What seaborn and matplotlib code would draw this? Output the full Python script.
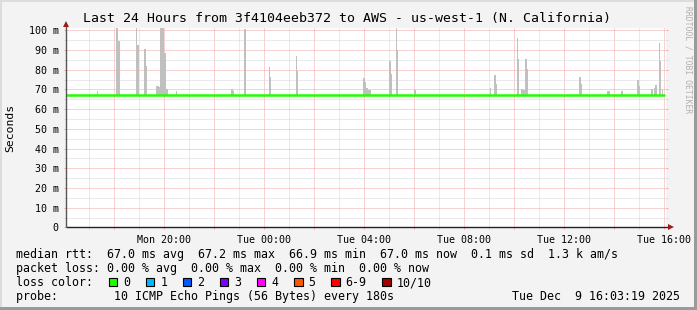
import matplotlib
matplotlib.use("Agg")
import matplotlib.pyplot as plt
from matplotlib.patches import Rectangle
from matplotlib.ticker import MultipleLocator, FixedLocator, FuncFormatter
import seaborn as sns
import pandas as pd
import numpy as np

# ---------------- data ----------------
title = "Last 24 Hours from 3f4104eeb372 to AWS - us-west-1 (N. California)"
y_label = "Seconds"
watermark = "RRDTOOL / TOBI OETIKER"

# median rtt (ms), one value every 30 minutes starting Mon 16:00
median_ms = [67.0, 67.1, 67.0, 67.1, 67.0, 67.0, 67.1, 67.0, 67.0, 67.1,
             67.0, 67.0, 67.0, 67.0, 67.1, 67.0, 67.0, 67.0, 67.0, 67.0,
             67.0, 67.0, 67.0, 67.0, 67.0, 67.0, 67.0, 67.0, 67.0, 67.0,
             67.0, 67.0, 67.0, 67.0, 67.0, 67.0, 67.0, 67.0, 67.0, 67.0,
             67.0, 67.1, 67.0, 67.1, 67.1, 67.1, 67.0, 67.1, 67.0]

# smoke spikes: sample start time and max ping (ms)
spike_times = ["Mon 17:18", "Mon 18:04", "Mon 18:09", "Mon 18:51", "Mon 18:55",
               "Mon 19:12", "Mon 19:15", "Mon 19:40", "Mon 19:43", "Mon 19:46",
               "Mon 19:49", "Mon 19:52", "Mon 19:55", "Mon 19:58", "Mon 20:01",
               "Mon 20:04", "Mon 20:27", "Mon 22:40", "Mon 22:43", "Mon 23:11",
               "Tue 00:10", "Tue 00:13", "Tue 01:15", "Tue 01:18", "Tue 03:57",
               "Tue 04:00", "Tue 04:03", "Tue 04:06", "Tue 04:09", "Tue 04:12",
               "Tue 04:59", "Tue 05:02", "Tue 05:15", "Tue 05:18", "Tue 05:59",
               "Tue 09:01", "Tue 09:11", "Tue 09:14", "Tue 10:05", "Tue 10:08",
               "Tue 10:15", "Tue 10:18", "Tue 10:21", "Tue 10:26", "Tue 10:29",
               "Tue 12:35", "Tue 12:38", "Tue 13:42", "Tue 13:45", "Tue 14:15",
               "Tue 14:18", "Tue 14:55", "Tue 14:58", "Tue 15:28", "Tue 15:35",
               "Tue 15:38", "Tue 15:46", "Tue 15:49", "Tue 15:53"]
spike_max_ms = [69.0, 101.5, 94.4, 101.5, 92.4,
                90.3, 81.8, 72.0, 72.0, 71.5,
                101.5, 101.5, 101.5, 88.7, 88.7,
                70.0, 69.0, 70.0, 69.0, 100.8,
                81.2, 76.1, 87.0, 79.2, 76.0,
                74.0, 71.0, 71.0, 69.7, 69.5,
                84.3, 77.8, 101.5, 90.0, 69.7,
                70.7, 77.2, 73.0, 96.1, 85.3,
                70.4, 70.4, 69.5, 85.6, 80.2,
                76.1, 73.0, 69.4, 69.4, 69.0,
                69.0, 74.8, 72.0, 70.4, 71.0,
                72.4, 93.7, 84.3, 70.0]

y_tick_values = [0, 10, 20, 30, 40, 50, 60, 70, 80, 90, 100]
y_tick_labels = ["0", "10 m", "20 m", "30 m", "40 m", "50 m",
                 "60 m", "70 m", "80 m", "90 m", "100 m"]
x_label_hours = [4, 8, 12, 16, 20, 24]
x_tick_labels = ["Mon 20:00", "Tue 00:00", "Tue 04:00",
                 "Tue 08:00", "Tue 12:00", "Tue 16:00"]

stats_line1 = "median rtt:  67.0 ms avg  67.2 ms max  66.9 ms min  67.0 ms now  0.1 ms sd  1.3 k am/s"
stats_line2 = "packet loss: 0.00 % avg  0.00 % max  0.00 % min  0.00 % now"
loss_title = "loss color:"
loss_labels = ["0", "1", "2", "3", "4", "5", "6-9", "10/10"]
loss_colors = ["#20ff00", "#00b8ff", "#0059ff", "#7e00ff",
               "#ff00ff", "#ff5500", "#ff0000", "#a10000"]
probe_line = "probe:        10 ICMP Echo Pings (56 Bytes) every 180s"
date_text = "Tue Dec  9 16:03:19 2025"

# ---------------- helpers ----------------
def to_hours(s):
    day, hm = s.split()
    h, m = hm.split(":")
    return (0 if day == "Mon" else 24) + int(h) + int(m) / 60 - 16

W, H = 697, 310
BG = "#f3f3f3"
GREEN = "#20ff00"
SMOKE = "#c0c0c0"
MGRID = "#f3a6a6"
GRID = "#d6d6d6"
AXIS = "#222222"
ARROW = "#9b1c1c"
MONO = "DejaVu Sans Mono"

sns.set_theme(style="white")
plt.rcParams["font.family"] = [MONO, "DejaVu Sans"]

fig = plt.figure(figsize=(W / 100, H / 100), dpi=100, facecolor=BG)

left_px, right_px, top_px, bottom_px = 65.8, 665.8, 28.0, 227.4
ax = fig.add_axes([left_px / W, 1 - bottom_px / H,
                   (right_px - left_px) / W, (bottom_px - top_px) / H])
ax.set_facecolor("white")

x_start, x_end = to_hours("Mon 16:03") + 19 / 3600, to_hours("Tue 16:03") + 19 / 3600
ax.set_xlim(x_start, x_end)
ax.set_ylim(0, 101.2)

# smoke
sx = np.array([to_hours(t) for t in spike_times])
sv = np.array(spike_max_ms)
base = 66.6
ax.bar(sx, sv - base, bottom=base, width=0.06, align="edge",
       color=SMOKE, linewidth=0, zorder=2)

# median line
df = pd.DataFrame({"h": np.arange(len(median_ms)) * 0.5, "ms": median_ms})
sns.lineplot(data=df, x="h", y="ms", ax=ax, color=GREEN, linewidth=1.8,
             drawstyle="steps-post", zorder=3)

# grid
ax.xaxis.set_major_locator(MultipleLocator(2))
ax.xaxis.set_minor_locator(FixedLocator(list(range(1, 25, 2))))
ax.yaxis.set_major_locator(FixedLocator(y_tick_values))
ax.yaxis.set_minor_locator(FixedLocator([v + 5 for v in y_tick_values[:-1]]))
lab_map = dict(zip(x_label_hours, x_tick_labels))
ax.xaxis.set_major_formatter(FuncFormatter(lambda v, p: lab_map.get(int(round(v)), "")))
ax.yaxis.set_major_formatter(FuncFormatter(
    lambda v, p: dict(zip(y_tick_values, y_tick_labels)).get(int(round(v)), "")))
ax.set_axisbelow(True)
ax.grid(which="major", color=MGRID, linestyle=(0, (1, 1)), linewidth=0.72)
ax.grid(which="minor", color=GRID, linestyle=(0, (1, 1)), linewidth=0.72)

ax.tick_params(axis="x", which="major", direction="out", length=1.6, width=0.72,
               color=MGRID, labelsize=7.2, pad=3.6, labelcolor="black", bottom=True)
ax.tick_params(axis="x", which="minor", direction="out", length=1.6, width=0.72,
               color=GRID, bottom=True)
ax.tick_params(axis="y", which="major", direction="out", length=1.6, width=0.72,
               color=MGRID, labelsize=7.2, pad=3.4, labelcolor="black",
               left=True, right=True, labelright=False)
ax.tick_params(axis="y", which="minor", direction="out", length=1.6, width=0.72,
               color=GRID, left=True, right=True)
for lab in ax.get_xticklabels() + ax.get_yticklabels():
    lab.set_fontfamily(MONO)
ax.set_xlabel("")
ax.set_ylabel("")

for s in ax.spines.values():
    s.set_visible(False)
# axes with arrows
ax.plot([0, 1.006], [0, 0], transform=ax.transAxes, color=AXIS, lw=1.0,
        clip_on=False, zorder=5, solid_capstyle="butt")
ax.plot([0, 0], [0, 1.015], transform=ax.transAxes, color="#555555", lw=1.0,
        clip_on=False, zorder=5, solid_capstyle="butt")
ax.plot([1.008], [0], marker=">", markersize=4.0, color=ARROW, transform=ax.transAxes,
        clip_on=False, zorder=6, markeredgewidth=0)
ax.plot([0], [1.022], marker="^", markersize=4.0, color=ARROW, transform=ax.transAxes,
        clip_on=False, zorder=6, markeredgewidth=0)

# ---------------- texts ----------------
def ftext(x, y, s, **kw):
    kw.setdefault("family", MONO)
    kw.setdefault("color", "black")
    return fig.text(x / W, 1 - y / H, s, **kw)

ftext(347, 18.5, title, fontsize=9.5, ha="center", va="center")
ftext(10, 128, y_label, fontsize=8.2, rotation=90, ha="center", va="center")
ftext(688, 60, watermark, fontsize=5.8, rotation=270, ha="center", va="center",
      color="#b0b0b0")

LEG = 8.4
ftext(16, 254.5, stats_line1, fontsize=LEG, ha="left", va="center")
ftext(16, 268.5, stats_line2, fontsize=LEG, ha="left", va="center")
ftext(16, 282.5, loss_title, fontsize=LEG, ha="left", va="center")
ftext(16, 296.5, probe_line, fontsize=LEG, ha="left", va="center")
ftext(680, 296.5, date_text, fontsize=LEG, ha="right", va="center")

char_w = 0.602 * LEG * 100 / 72
bx = 108.7
box = 8.7
for lab, col in zip(loss_labels, loss_colors):
    r = Rectangle((bx / W, 1 - (277.6 + box) / H), box / W, box / H,
                  facecolor=col, edgecolor="black", linewidth=0.8,
                  transform=fig.transFigure, figure=fig)
    fig.patches.append(r)
    lx = bx + 14.7
    ftext(lx, 282.5, lab, fontsize=LEG, ha="left", va="center")
    bx = lx + len(lab) * char_w + 15.3

# frame
for (x0, y0, w, h, c) in [(0, 0, W, 2, "#dcdcdc"), (0, 0, 2, H, "#dcdcdc"),
                          (W - 3, 0, 3, H, "#9a9a9a"), (0, H - 3, W, 3, "#9a9a9a")]:
    fig.patches.append(Rectangle((x0 / W, 1 - (y0 + h) / H), w / W, h / H,
                                 facecolor=c, edgecolor="none",
                                 transform=fig.transFigure, figure=fig))

fig.savefig("out.png", dpi=100, facecolor=BG)
